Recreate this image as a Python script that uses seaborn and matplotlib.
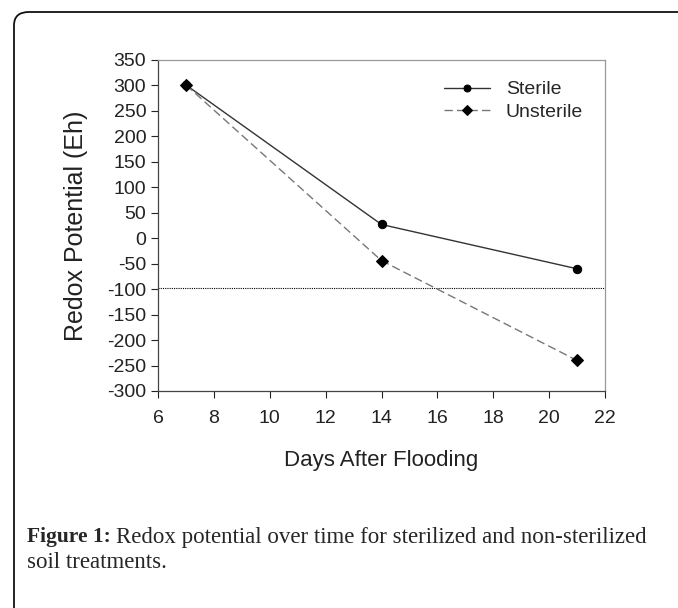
import matplotlib
matplotlib.use("Agg")
import matplotlib.pyplot as plt
from matplotlib.patches import FancyBboxPatch
import pandas as pd
import seaborn as sns

# values
days = [7, 14, 21]
sterile = [301, 27, -60]
unsterile = [301, -44, -240]
threshold = -98

sns.set_theme(style="white")
plt.rcParams["font.family"] = ["Liberation Sans", "DejaVu Sans"]
plt.rcParams["axes.unicode_minus"] = False

df = pd.DataFrame({
    "day": days * 2,
    "eh": sterile + unsterile,
    "treatment": ["Sterile"] * 3 + ["Unsterile"] * 3,
})

fig = plt.figure(figsize=(6.78, 6.08), dpi=100)

# rounded frame around the panel (runs off the right and bottom edges)
frame = FancyBboxPatch((14 / 678, -0.1), 1.2, 1.1 - 12 / 608,
                       boxstyle="round,pad=0,rounding_size=0.022",
                       transform=fig.transFigure, fill=False,
                       edgecolor="#111111", linewidth=1.3)
fig.patches.append(frame)

ax = fig.add_axes([158 / 678, 1 - 391 / 608, (605 - 158) / 678, (391 - 60) / 608])

ax.axhline(threshold, color="black", linestyle=(0, (1, 1)), linewidth=0.8, zorder=1)

sns.lineplot(data=df, x="day", y="eh", hue="treatment", style="treatment",
             palette={"Sterile": "#333333", "Unsterile": "#777777"},
             markers={"Sterile": "o", "Unsterile": "D"},
             dashes={"Sterile": "", "Unsterile": (6, 3)},
             linewidth=1.0, markersize=6, markeredgecolor="black",
             ax=ax, zorder=3)
for ln in ax.lines[1:]:
    ln.set_markerfacecolor("black")

ax.set_xlim(6, 22)
ax.set_ylim(-300, 350)
ax.set_xticks(range(6, 23, 2))
ax.set_yticks(range(-300, 351, 50))
ax.tick_params(axis="both", direction="out", length=5, width=0.8,
               labelsize=14, colors="#222222", bottom=True, left=True)
ax.tick_params(axis="x", pad=9)
for side in ["top", "right"]:
    ax.spines[side].set_color("#999999")
for side in ["left", "bottom"]:
    ax.spines[side].set_color("#444444")
for sp in ax.spines.values():
    sp.set_linewidth(0.9)

ax.set_xlabel("Days After Flooding", fontsize=16, color="#222222")
ax.xaxis.set_label_coords(0.5, -(450 - 391) / (391 - 60), transform=ax.transAxes)
ax.set_ylabel("Redox Potential (Eh)", fontsize=18, color="#222222")
ax.yaxis.set_label_coords(-(158 - 88) / (605 - 158), 0.5, transform=ax.transAxes)

handles, labels = ax.get_legend_handles_labels()
for h in handles:
    h.set_markerfacecolor("black")
    h.set_markeredgecolor("black")
    h.set_markersize(5)
ax.legend(handles, labels, loc="upper right", bbox_to_anchor=(0.99, 0.99),
          frameon=False, fontsize=14, handlelength=2.4, labelspacing=0.25)

cap_y1 = 1 - 537 / 608
cap_y2 = 1 - 563 / 608
fig.text(27 / 678, cap_y1, "Figure 1:", fontsize=15.5, fontweight="bold",
         family="Liberation Serif", va="center")
fig.text(116 / 678, cap_y1,
         "Redox potential over time for sterilized and non-sterilized",
         fontsize=16.5, family="Liberation Serif", va="center")
fig.text(27 / 678, cap_y2, "soil treatments.", fontsize=16.5,
         family="Liberation Serif", va="center")

fig.savefig("out.png", dpi=100)
